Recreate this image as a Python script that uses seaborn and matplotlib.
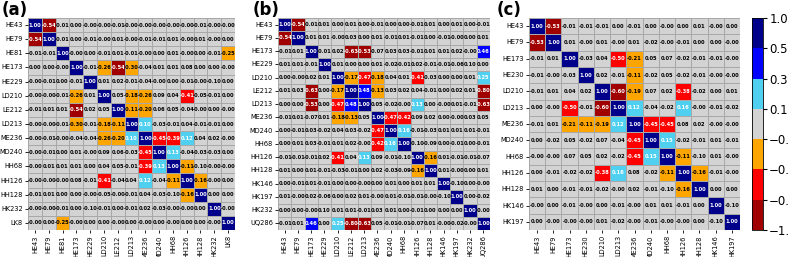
import numpy as np
import pandas as pd
import matplotlib
matplotlib.use("Agg")
import matplotlib.pyplot as plt
import seaborn as sns
from matplotlib.colors import ListedColormap, BoundaryNorm
from matplotlib.cm import ScalarMappable

# =====================================================
# DATA (lower triangles of the correlation matrices)
# =====================================================

LABELS_A = ["HE43", "HE79", "HE81", "HE173", "HE229", "LD210", "LE212", "LD213",
            "ME236", "MD240", "HH68", "HH126", "HH128", "HK232", "LK8"]
LOWER_A = [
    [-0.54],
    [-0.01, -0.01],
    [0.00, 0.00, -0.00],
    [-0.00, -0.01, 0.00, -0.01],
    [-0.00, -0.00, -0.01, -0.26, 0.01],
    [-0.01, 0.01, 0.01, -0.54, 0.02, 0.05],
    [-0.00, -0.00, -0.01, -0.30, -0.01, -0.18, -0.11],
    [-0.00, -0.01, -0.00, -0.04, -0.04, -0.26, -0.20, 0.10],
    [-0.00, -0.01, 0.00, 0.01, -0.00, 0.09, 0.06, -0.03, -0.45],
    [-0.00, 0.01, 0.01, 0.01, 0.00, 0.04, 0.05, -0.01, -0.39, 0.13],
    [-0.00, -0.00, -0.00, 0.08, -0.01, -0.41, -0.04, 0.04, 0.12, -0.04, -0.11],
    [-0.01, 0.01, 0.00, 0.00, -0.00, -0.05, -0.00, -0.01, 0.04, -0.03, -0.10, -0.16],
    [-0.00, -0.00, -0.01, 0.00, -0.10, -0.01, 0.00, -0.01, 0.02, -0.03, -0.00, -0.00, 0.00],
    [-0.00, 0.00, -0.25, -0.00, 0.00, 0.00, -0.00, 0.00, -0.00, 0.00, -0.00, 0.00, 0.00, -0.00],
]

LABELS_B = ["HE43", "HE79", "HE173", "HE229", "LD210", "LE212", "LD213", "ME236",
            "MD240", "HH68", "HH126", "HH128", "HK146", "HK197", "HK232", "UQ286"]
LOWER_B = [
    [-0.54],
    [-0.01, 0.01],
    [0.01, 0.01, -0.01],
    [0.00, -0.00, 0.02, 0.01],
    [0.01, 0.03, -0.63, 0.00, -0.17],
    [0.00, 0.00, -0.53, 0.00, -0.47, 0.48],
    [-0.01, 0.01, -0.07, 0.01, -0.18, -0.13, 0.05],
    [0.00, -0.01, 0.03, -0.02, 0.04, 0.03, -0.02, -0.47],
    [0.00, 0.01, 0.03, -0.01, 0.01, 0.02, -0.00, -0.42, 0.16],
    [-0.01, -0.01, -0.01, 0.02, -0.41, 0.04, 0.13, 0.09, -0.01, -0.10],
    [0.01, 0.00, 0.01, -0.01, -0.03, -0.01, 0.00, 0.02, -0.03, -0.09, -0.16],
    [0.00, -0.01, 0.01, -0.01, 0.00, 0.00, -0.00, 0.00, 0.01, 0.00, 0.01, 0.01],
    [0.01, -0.00, 0.02, -0.06, 0.00, 0.02, 0.01, -0.00, 0.01, -0.01, -0.01, -0.00, -0.10],
    [0.00, 0.00, -0.00, 0.099, 0.01, 0.01, -0.01, 0.03, 0.01, 0.00, -0.01, 0.00, 0.00, 0.00],
    [-0.01, 0.01, 0.46, 0.00, 0.25, -0.80, -0.63, 0.05, -0.01, -0.01, -0.07, 0.01, -0.00, -0.02, -0.00],
]

LABELS_C = ["HE43", "HE79", "HE173", "HE230", "LD210", "LD213", "ME236", "MD240",
            "HH68", "HH126", "HH128", "HK146", "HK197"]
LOWER_C = [
    [-0.53],
    [-0.01, 0.01],
    [-0.01, -0.00, -0.03],
    [-0.01, 0.01, 0.04, 0.02],
    [0.00, -0.00, -0.50, -0.01, -0.60],
    [-0.01, 0.01, -0.21, -0.11, -0.19, 0.12],
    [0.00, -0.02, 0.05, -0.02, 0.07, -0.04, -0.45],
    [-0.00, -0.00, 0.07, 0.05, 0.02, -0.02, -0.45, 0.15],
    [0.00, -0.01, -0.02, -0.02, -0.38, 0.16, 0.08, -0.02, -0.11],
    [0.01, 0.00, -0.01, -0.01, -0.02, -0.00, 0.02, -0.01, -0.10, -0.16],
    [-0.00, 0.00, -0.01, -0.00, 0.00, -0.01, -0.00, 0.01, 0.01, -0.01, 0.00],
    [0.00, -0.00, -0.00, -0.00, 0.01, -0.02, -0.00, -0.01, -0.00, -0.00, 0.00, -0.10],
]

BOUNDS = [-1.0, -0.5, -0.3, -0.1, 0.1, 0.3, 0.5, 1.0]
COLORS = ["#a00000", "#ff0000", "#ffa500", "#d3d3d3", "#50d0f0", "#0000ff", "#00008b"]


def full_matrix(lower, labels):
    n = len(labels)
    m = np.eye(n)
    for i, row in enumerate(lower, start=1):
        m[i, :i] = row
        m[:i, i] = row
    return pd.DataFrame(m, index=labels, columns=labels)


cmap = ListedColormap(COLORS)
norm = BoundaryNorm(BOUNDS, cmap.N)

fig = plt.figure(figsize=(7.88, 2.57), dpi=100)
W, H = 788, 257
TOP, BOT = 18, 230

panels = [
    ("(a)", LOWER_A, LABELS_A, (28, 207), 2),
    ("(b)", LOWER_B, LABELS_B, (278, 212), 253),
    ("(c)", LOWER_C, LABELS_C, (529, 211), 497),
]

for tag, lower, labels, (x0, w), tx in panels:
    ax = fig.add_axes([x0 / W, (H - BOT) / H, w / W, (BOT - TOP) / H])
    corr = full_matrix(lower, labels)
    sns.heatmap(
        corr, ax=ax, cmap=cmap, norm=norm, cbar=False,
        annot=True, fmt=".2f", annot_kws={"size": 3.7, "weight": "bold"},
        linewidths=0.5, linecolor="#a8a8a8",
        xticklabels=labels, yticklabels=labels,
    )
    # white text on the blue/cyan and dark red/red cells, black elsewhere
    for txt, v in zip(ax.texts, corr.values.ravel()):
        txt.set_color("white" if (v >= 0.1 or v < -0.3) else "black")
    ax.tick_params(axis="both", labelsize=4.8, length=2.5, width=0.6, pad=1.2)
    ax.tick_params(axis="x", labelrotation=90)
    ax.tick_params(axis="y", labelrotation=0)
    fig.text(tx / W, 1 - 1 / H, tag, fontsize=12, fontweight="bold", va="top", ha="left")

# discrete colorbar
cax = fig.add_axes([752 / W, (H - BOT) / H, 11 / W, (BOT - TOP) / H])
sm = ScalarMappable(norm=norm, cmap=cmap)
cb = fig.colorbar(sm, cax=cax, ticks=BOUNDS, spacing="uniform")
cb.ax.tick_params(labelsize=8.5, length=3, width=0.8, pad=1.5)
cb.outline.set_linewidth(0.6)

fig.savefig("out.png", dpi=100)
